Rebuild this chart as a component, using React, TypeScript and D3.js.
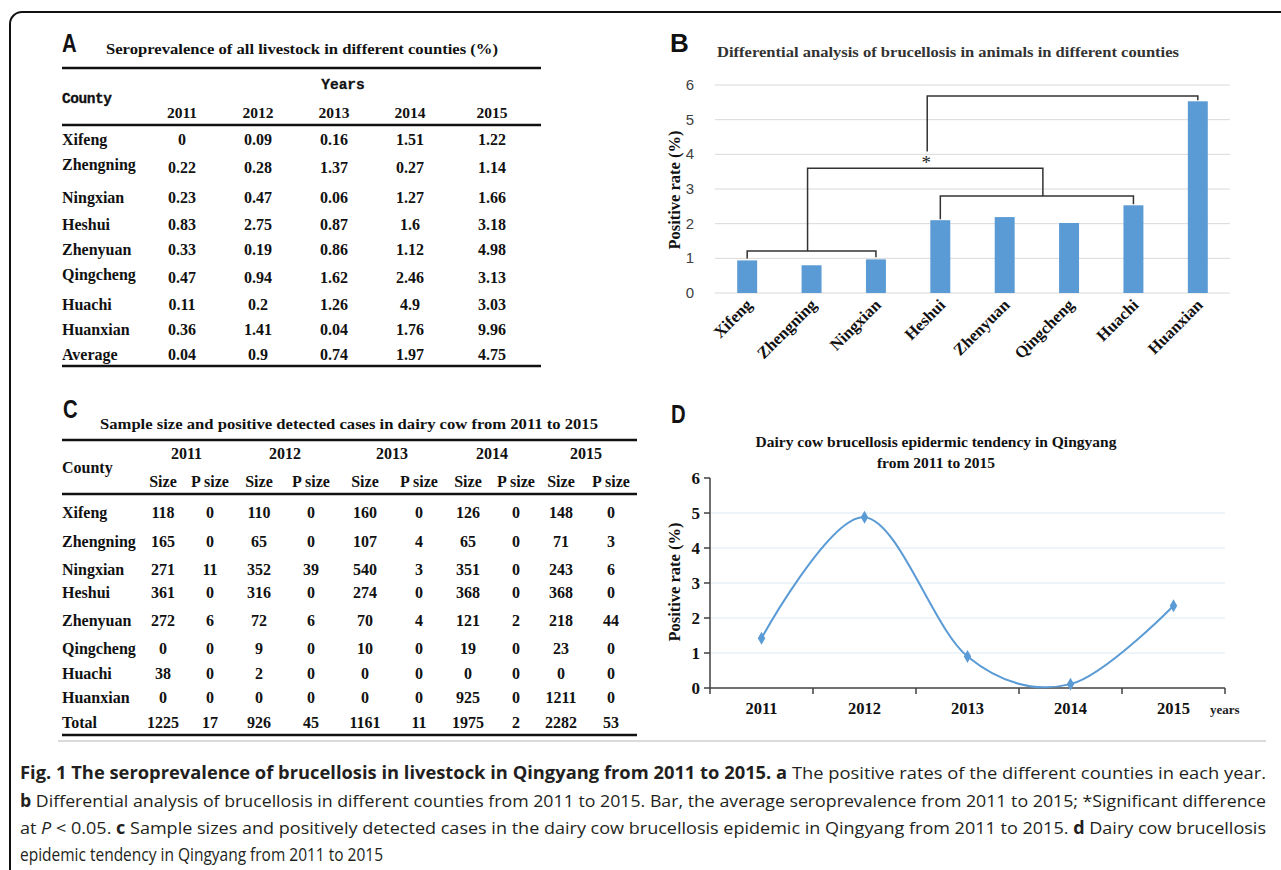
import React from 'react';
import * as d3 from 'd3';

// ---- data ----
const years = ['2011', '2012', '2013', '2014', '2015'];

// panel A: seroprevalence of all livestock (%)
const countiesA = ['Xifeng', 'Zhengning', 'Ningxian', 'Heshui', 'Zhenyuan', 'Qingcheng', 'Huachi', 'Huanxian', 'Average'];
const seroRows = [
  [0, 0.09, 0.16, 1.51, 1.22],
  [0.22, 0.28, 1.37, 0.27, 1.14],
  [0.23, 0.47, 0.06, 1.27, 1.66],
  [0.83, 2.75, 0.87, 1.6, 3.18],
  [0.33, 0.19, 0.86, 1.12, 4.98],
  [0.47, 0.94, 1.62, 2.46, 3.13],
  [0.11, 0.2, 1.26, 4.9, 3.03],
  [0.36, 1.41, 0.04, 1.76, 9.96],
  [0.04, 0.9, 0.74, 1.97, 4.75],
];

// panel B: average positive rate per county
const barCounties = ['Xifeng', 'Zhengning', 'Ningxian', 'Heshui', 'Zhenyuan', 'Qingcheng', 'Huachi', 'Huanxian'];
const barRates = [0.94, 0.8, 0.97, 2.1, 2.19, 2.02, 2.53, 5.53];
const ticksB = [0, 1, 2, 3, 4, 5, 6];
// significance brackets (heights in % units)
const lowGroup = ['Xifeng', 'Ningxian'];
const highGroup = ['Heshui', 'Huachi'];
const lowLevel = 1.21;
const highLevel = 2.8;
const crossLevel = 3.6;
const topLevel = 5.68;
const topDrop = 4.08;

// panel C: sample size / positive cases in dairy cow
const countiesC = ['Xifeng', 'Zhengning', 'Ningxian', 'Heshui', 'Zhenyuan', 'Qingcheng', 'Huachi', 'Huanxian', 'Total'];
const subHeaders = ['Size', 'P size'];
const sizeRows = [
  [118, 0, 110, 0, 160, 0, 126, 0, 148, 0],
  [165, 0, 65, 0, 107, 4, 65, 0, 71, 3],
  [271, 11, 352, 39, 540, 3, 351, 0, 243, 6],
  [361, 0, 316, 0, 274, 0, 368, 0, 368, 0],
  [272, 6, 72, 6, 70, 4, 121, 2, 218, 44],
  [0, 0, 9, 0, 10, 0, 19, 0, 23, 0],
  [38, 0, 2, 0, 0, 0, 0, 0, 0, 0],
  [0, 0, 0, 0, 0, 0, 925, 0, 1211, 0],
  [1225, 17, 926, 45, 1161, 11, 1975, 2, 2282, 53],
];

// panel D: dairy cow positive rate by year
const lineRates = [1.42, 4.88, 0.9, 0.11, 2.35];
const ticksD = [0, 1, 2, 3, 4, 5, 6];

// ---- layout ----
const serif = '"Liberation Serif", "Times New Roman", serif';
const mono = '"Liberation Mono", "Courier New", monospace';
const sans = '"Liberation Sans", Arial, sans-serif';
const capFont = '"Open Sans", "Noto Sans", sans-serif';
const ink = '#111';

const colXA = [182, 258, 334, 410, 492];
const rowYA = [139, 164, 197, 224, 249, 274, 304, 329, 354];
const valYA = [139, 167, 197, 224, 249, 277, 304, 329, 354];
const colXC = [163, 210, 259, 311, 365, 419, 468, 516, 561, 611];
const rowYC = [512, 541, 569, 592, 620, 648, 673, 697, 722];

const Label = ({ x, y, t, narrow = true }) => (
  <text
    transform={`translate(${x},${y}) scale(${narrow ? 0.78 : 1},1)`}
    fontFamily={sans}
    fontWeight="bold"
    fontSize={26}
    fill={ink}
  >
    {t}
  </text>
);

const Rule = ({ x1, x2, y }) => <line x1={x1} x2={x2} y1={y} y2={y} stroke={ink} strokeWidth={2.5} />;

const TableA = () => (
  <g fontFamily={serif} fontWeight="bold" fill={ink}>
    <Label x={62} y={52} t="A" />
    <text x={106} y={54} fontSize={15} textLength={392} lengthAdjust="spacingAndGlyphs">
      Seroprevalence of all livestock in different counties (%)
    </text>
    <Rule x1={62} x2={541} y={68} />
    <text x={343} y={89} fontFamily={mono} fontSize={14.5} textAnchor="middle" stroke={ink} strokeWidth={0.3}>Years</text>
    <text x={62} y={103} fontFamily={mono} fontSize={14.5} stroke={ink} strokeWidth={0.3} textLength={50}>County</text>
    {years.map((yr, i) => (
      <text key={yr} x={colXA[i]} y={117.5} fontSize={15.5} textAnchor="middle">{yr}</text>
    ))}
    <Rule x1={62} x2={541} y={125} />
    {countiesA.map((c, r) => (
      <g key={c}>
        <text x={62} y={rowYA[r] + 5.5} fontSize={16}>{c}</text>
        {seroRows[r].map((v, i) => (
          <text key={i} x={colXA[i]} y={valYA[r] + 5.5} fontSize={16} textAnchor="middle">{String(v)}</text>
        ))}
      </g>
    ))}
    <Rule x1={62} x2={541} y={366} />
  </g>
);

const TableC = () => (
  <g fontFamily={serif} fontWeight="bold" fill={ink}>
    <Label x={63} y={418} t="C" />
    <text x={100} y={429} fontSize={15.5} textLength={498} lengthAdjust="spacingAndGlyphs">
      Sample size and positive detected cases in dairy cow from 2011 to 2015
    </text>
    <Rule x1={62} x2={637} y={440} />
    {years.map((yr, i) => (
      <text key={yr} x={(colXC[2 * i] + colXC[2 * i + 1]) / 2} y={459} fontSize={16} textAnchor="middle">{yr}</text>
    ))}
    <text x={62} y={472.5} fontSize={16}>County</text>
    {colXC.map((x, i) => (
      <text key={i} x={x} y={486.5} fontSize={16} textAnchor="middle">{subHeaders[i % 2]}</text>
    ))}
    <Rule x1={62} x2={637} y={494} />
    {countiesC.map((c, r) => (
      <g key={c}>
        <text x={62} y={rowYC[r] + 5.5} fontSize={16}>{c}</text>
        {sizeRows[r].map((v, i) => (
          <text key={i} x={colXC[i]} y={rowYC[r] + 5.5} fontSize={16} textAnchor="middle">{String(v)}</text>
        ))}
      </g>
    ))}
    <Rule x1={62} x2={637} y={735} />
  </g>
);

const ChartB = () => {
  const x = d3.scaleBand().domain(barCounties).range([715, 1230]).paddingInner(0.69).paddingOuter(0.345);
  const y = d3.scaleLinear().domain([0, 6]).range([293, 85]);
  const cx = (c) => x(c) + x.bandwidth() / 2;
  const rate = (c) => barRates[barCounties.indexOf(c)];

  const xl1 = cx(lowGroup[0]);
  const xl2 = cx(lowGroup[1]);
  const xh1 = cx(highGroup[0]);
  const xh2 = cx(highGroup[1]);
  const xLowMid = (xl1 + xl2) / 2 - 4;
  const xHighMid = (xh1 + xh2) / 2 + 6;
  const xCrossMid = (xLowMid + xHighMid) / 2 + 2;
  const last = barCounties[barCounties.length - 1];
  const brackets = [
    `M${xl1},${y(rate(lowGroup[0])) - 2}V${y(lowLevel)}H${xl2}V${y(rate(lowGroup[1])) - 2}`,
    `M${xh1},${y(rate(highGroup[0])) - 1}V${y(highLevel)}H${xh2}V${y(rate(highGroup[1])) - 1}`,
    `M${xLowMid},${y(lowLevel)}V${y(crossLevel)}H${xHighMid}V${y(highLevel)}`,
    `M${xCrossMid},${y(topDrop)}V${y(topLevel)}H${cx(last)}V${y(rate(last)) - 1}`,
  ];

  return (
    <g>
      <Label x={670} y={52} t="B" narrow={false} />
      <text x={717} y={57} fontFamily={serif} fontWeight="bold" fontSize={14.5} fill="#333" textLength={462} lengthAdjust="spacingAndGlyphs">
        Differential analysis of brucellosis in animals in different counties
      </text>
      {ticksB.map((t) => (
        <g key={t}>
          <line x1={715} x2={1230} y1={y(t)} y2={y(t)} stroke="#d9d9d9" strokeWidth={1} />
          <text x={694} y={y(t) + 5} fontFamily={sans} fontSize={15} fill="#404040" textAnchor="end">{t}</text>
        </g>
      ))}
      {barCounties.map((c, i) => (
        <rect key={c} x={x(c)} y={y(barRates[i])} width={x.bandwidth()} height={y(0) - y(barRates[i])} fill="#5b9bd5" />
      ))}
      {brackets.map((d, i) => (
        <path key={i} d={d} fill="none" stroke="#333" strokeWidth={1.5} />
      ))}
      <text x={xCrossMid - 1} y={y(crossLevel) + 1} fontFamily={serif} fontSize={19} textAnchor="middle" fill="#222">*</text>
      {barCounties.map((c) => (
        <text
          key={c}
          transform={`translate(${cx(c) + 6},${306}) rotate(-45)`}
          fontFamily={serif}
          fontWeight="bold"
          fontSize={16.5}
          textAnchor="end"
          fill={ink}
        >
          {c}
        </text>
      ))}
      <text transform="translate(680,190) rotate(-90)" fontFamily={serif} fontWeight="bold" fontSize={16.5} textAnchor="middle" fill={ink}>
        Positive rate (%)
      </text>
    </g>
  );
};

const ChartD = () => {
  const x = d3.scaleBand().domain(years).range([710, 1225]);
  const y = d3.scaleLinear().domain([0, 6]).range([688, 478]);
  const cx = (i) => x(years[i]) + x.bandwidth() / 2;
  const line = d3
    .line()
    .x((d, i) => cx(i))
    .y((d) => y(d))
    .curve(d3.curveCardinal.tension(0));
  const diamond = d3.symbol(d3.symbolDiamond, 48)();
  const bounds = years.map((yr) => x(yr)).concat([x(years[years.length - 1]) + x.bandwidth()]);

  return (
    <g>
      <Label x={671} y={423} t="D" />
      <g fontFamily={serif} fontWeight="bold" fontSize={15.5} textAnchor="middle" fill={ink}>
        <text x={936} y={447}>Dairy cow brucellosis epidermic tendency in Qingyang</text>
        <text x={936} y={468}>from 2011 to 2015</text>
      </g>
      {ticksD.filter((t) => t > 0 && t < 6).map((t) => (
        <line key={t} x1={710} x2={1225} y1={y(t)} y2={y(t)} stroke="#dcebf8" strokeWidth={1.2} />
      ))}
      <line x1={710} x2={710} y1={y(6)} y2={y(0)} stroke="#404040" strokeWidth={1.5} />
      <line x1={710} x2={1225} y1={y(0)} y2={y(0)} stroke="#404040" strokeWidth={1.5} />
      {ticksD.map((t) => (
        <g key={t}>
          <line x1={704} x2={710} y1={y(t)} y2={y(t)} stroke="#404040" strokeWidth={1.5} />
          <text x={700} y={y(t) + 6} fontFamily={serif} fontWeight="bold" fontSize={17} textAnchor="end" fill={ink}>{t}</text>
        </g>
      ))}
      {bounds.map((b, i) => (
        <line key={i} x1={b} x2={b} y1={y(0)} y2={y(0) + 6} stroke="#404040" strokeWidth={1.5} />
      ))}
      {years.map((yr, i) => (
        <text key={yr} x={cx(i)} y={714} fontFamily={serif} fontWeight="bold" fontSize={16.5} textAnchor="middle" fill={ink}>{yr}</text>
      ))}
      <text x={1210} y={714} fontFamily={serif} fontWeight="bold" fontSize={13} fill="#222">years</text>
      <path d={line(lineRates)} fill="none" stroke="#5b9bd5" strokeWidth={2} />
      {lineRates.map((v, i) => (
        <path key={i} d={diamond} transform={`translate(${cx(i)},${y(v)})`} fill="#5b9bd5" />
      ))}
      <text transform="translate(680,582) rotate(-90)" fontFamily={serif} fontWeight="bold" fontSize={16.5} textAnchor="middle" fill={ink}>
        Positive rate (%)
      </text>
    </g>
  );
};

const Caption = () => (
  <g fontFamily={capFont} fontSize={17} fill="#231f20">
    <line x1={58} x2={1266} y1={741} y2={741} stroke="#b5b5b5" strokeWidth={1} />
    <text x={20} y={779} textLength={1246} lengthAdjust="spacingAndGlyphs">
      <tspan fontWeight="bold">Fig. 1 The seroprevalence of brucellosis in livestock in Qingyang from 2011 to 2015. a</tspan>
      <tspan> The positive rates of the different counties in each year.</tspan>
    </text>
    <text x={20} y={807} textLength={1246} lengthAdjust="spacingAndGlyphs">
      <tspan fontWeight="bold">b</tspan>
      <tspan> Differential analysis of brucellosis in different counties from 2011 to 2015. Bar, the average seroprevalence from 2011 to 2015; *Significant difference</tspan>
    </text>
    <text x={20} y={834} textLength={1246} lengthAdjust="spacingAndGlyphs">
      <tspan>at </tspan>
      <tspan fontStyle="italic">P</tspan>
      <tspan> &lt; 0.05. </tspan>
      <tspan fontWeight="bold">c</tspan>
      <tspan> Sample sizes and positively detected cases in the dairy cow brucellosis epidemic in Qingyang from 2011 to 2015. </tspan>
      <tspan fontWeight="bold">d</tspan>
      <tspan> Dairy cow brucellosis</tspan>
    </text>
    <text x={20} y={861} fontSize={17.5} textLength={363} lengthAdjust="spacingAndGlyphs">
      epidemic tendency in Qingyang from 2011 to 2015
    </text>
  </g>
);

export default function App() {
  return (
    <svg width={1281} height={870} style={{ position: 'absolute', left: 0, top: 0, background: '#fff' }}>
      <rect x={0} y={0} width={1281} height={870} fill="#fff" />
      <rect x={10} y={12} width={1300} height={900} rx={12} fill="none" stroke={ink} strokeWidth={2} />
      <TableA />
      <ChartB />
      <TableC />
      <ChartD />
      <Caption />
    </svg>
  );
}
